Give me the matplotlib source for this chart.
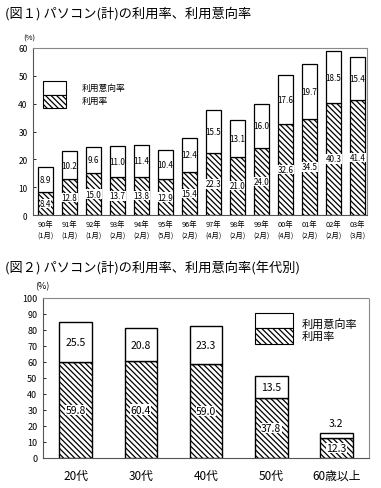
import matplotlib
matplotlib.use("Agg")
import matplotlib.pyplot as plt
from matplotlib.patches import Rectangle
import numpy as np

plt.rcParams['font.family'] = ['Noto Sans CJK JP', 'DejaVu Sans']
plt.rcParams['hatch.linewidth'] = 0.9

# chart 1 data
years = ['90年', '91年', '92年', '93年', '94年', '95年', '96年',
         '97年', '98年', '99年', '00年', '01年', '02年', '03年']
months = ['1月', '1月', '1月', '2月', '2月', '5月', '2月',
          '4月', '2月', '2月', '4月', '2月', '2月', '3月']
use1 = [8.4, 12.8, 15.0, 13.7, 13.8, 12.9, 15.4, 22.3, 21.0, 24.0, 32.6, 34.5, 40.3, 41.4]
intent1 = [8.9, 10.2, 9.6, 11.0, 11.4, 10.4, 12.4, 15.5, 13.1, 16.0, 17.6, 19.7, 18.5, 15.4]

# chart 2 data
ages = ['20代', '30代', '40代', '50代', '60歳以上']
use2 = [59.8, 60.4, 59.0, 37.8, 12.3]
intent2 = [25.5, 20.8, 23.3, 13.5, 3.2]

W, H = 381, 489
fig = plt.figure(figsize=(W / 100, H / 100), dpi=100)
HATCH = '\\\\\\\\\\\\'


def px_axes(l, t, r, b):
    return fig.add_axes([l / W, 1 - b / H, (r - l) / W, (b - t) / H])


def style_axes(ax):
    for s in ['top', 'right']:
        ax.spines[s].set_linestyle((0, (1, 1)))
        ax.spines[s].set_color('#888888')
        ax.spines[s].set_linewidth(0.8)
    for s in ['left', 'bottom']:
        ax.spines[s].set_color('#555555')
        ax.spines[s].set_linewidth(0.8)
    ax.tick_params(axis='y', direction='in', length=2, width=0.6, pad=4)
    ax.tick_params(axis='x', length=0)


def legend_box(ax, x, y, w, h, tx, ty1, ty2, fs):
    ax.add_patch(Rectangle((x, y + h / 2), w, h / 2, transform=ax.transAxes,
                           facecolor='white', edgecolor='black', lw=0.8, clip_on=False))
    ax.add_patch(Rectangle((x, y), w, h / 2, transform=ax.transAxes,
                           facecolor='white', edgecolor='black', hatch=HATCH, lw=0.8,
                           clip_on=False))
    ax.text(tx, ty1, '利用意向率', transform=ax.transAxes, fontsize=fs, va='center')
    ax.text(tx, ty2, '利用率', transform=ax.transAxes, fontsize=fs, va='center')


lbl_box = dict(boxstyle='square,pad=0.02', facecolor='white', edgecolor='none')

# ---------------- chart 1 ----------------
fig.text(5 / W, 1 - 14 / H, '(図１) パソコン(計)の利用率、利用意向率', fontsize=9.5, va='center')
ax1 = px_axes(33, 49, 367, 216)
x1 = np.arange(len(years))
ax1.bar(x1, use1, width=0.62, color='white', edgecolor='black', hatch=HATCH, lw=0.9)
ax1.bar(x1, intent1, bottom=use1, width=0.62, color='white', edgecolor='black', lw=0.9)
for i in range(len(years)):
    ax1.text(x1[i], use1[i] / 2, f'{use1[i]:.1f}', ha='center', va='center',
             fontsize=5.8, bbox=lbl_box)
    ax1.text(x1[i], use1[i] + intent1[i] / 2, f'{intent1[i]:.1f}', ha='center', va='center',
             fontsize=5.8)
ax1.set_xlim(-0.52, 13.4)
ax1.set_ylim(0, 60)
ax1.set_yticks(range(0, 61, 10))
ax1.set_xticks(x1)
ax1.set_xticklabels([f'{y}\n({m})' for y, m in zip(years, months)], fontsize=5.3,
                    linespacing=1.5)
ax1.tick_params(axis='y', labelsize=6)
style_axes(ax1)
ax1.text(-0.03, 1.05, '(%)', transform=ax1.transAxes, fontsize=5.5, ha='left')
legend_box(ax1, 0.03, 0.64, 0.069, 0.162, 0.147, 0.765, 0.685, 6.3)

# ---------------- chart 2 ----------------
fig.text(5 / W, 1 - 269 / H, '(図２) パソコン(計)の利用率、利用意向率(年代別)', fontsize=9.5, va='center')
ax2 = px_axes(43, 299, 369, 459)
x2 = np.arange(len(ages))
ax2.bar(x2, use2, width=0.5, color='white', edgecolor='black', hatch=HATCH, lw=1.0)
ax2.bar(x2, intent2, bottom=use2, width=0.5, color='white', edgecolor='black', lw=1.0)
for i in range(len(ages)):
    ax2.text(x2[i], use2[i] / 2, f'{use2[i]:.1f}', ha='center', va='center',
             fontsize=7.5, bbox=lbl_box)
    if intent2[i] < 5:
        ax2.text(x2[i], use2[i] + intent2[i] + 3, f'{intent2[i]:.1f}', ha='center',
                 va='bottom', fontsize=7.5)
    else:
        ax2.text(x2[i], use2[i] + intent2[i] / 2, f'{intent2[i]:.1f}', ha='center',
                 va='center', fontsize=7.5)
ax2.set_xlim(-0.5, 4.5)
ax2.set_ylim(0, 100)
ax2.set_yticks(range(0, 101, 10))
ax2.set_xticks(x2)
ax2.set_xticklabels(ages, fontsize=8.5)
ax2.tick_params(axis='x', pad=8)
ax2.tick_params(axis='y', labelsize=6.5)
style_axes(ax2)
ax2.text(-0.025, 1.06, '(%)', transform=ax2.transAxes, fontsize=6.5, ha='left')
legend_box(ax2, 0.650, 0.7125, 0.117, 0.194, 0.794, 0.844, 0.7625, 8)

fig.savefig('out.png', dpi=100)
